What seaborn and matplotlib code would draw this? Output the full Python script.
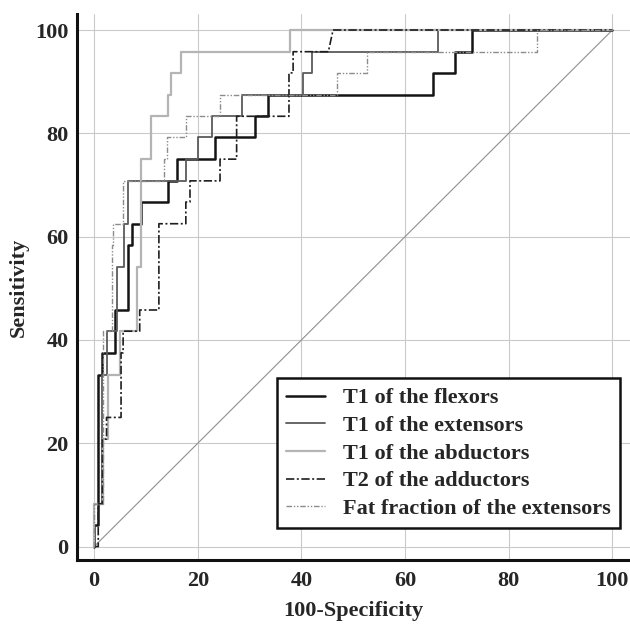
import matplotlib
matplotlib.use("Agg")
import matplotlib.pyplot as plt
import seaborn as sns
import pandas as pd

# ROC step curves, (100-specificity, sensitivity) vertices
flexors_fpr = [0, 0, 0.8, 0.8, 1.6, 1.6, 4.0, 4.0, 6.6, 6.6, 7.4, 7.4, 9.1, 9.1, 14.3, 14.3,
               15.9, 15.9, 23.3, 23.3, 31.0, 31.0, 33.6, 33.6, 65.4, 65.4, 69.6, 69.6, 73.0, 73.0, 100]
flexors_tpr = [0, 4.2, 4.2, 33.3, 33.3, 37.5, 37.5, 45.8, 45.8, 58.3, 58.3, 62.5, 62.5, 66.7, 66.7, 70.8,
               70.8, 75.0, 75.0, 79.2, 79.2, 83.3, 83.3, 87.5, 87.5, 91.7, 91.7, 95.8, 95.8, 100, 100]

extensors_fpr = [0, 0, 1.6, 1.6, 2.4, 2.4, 4.5, 4.5, 5.8, 5.8, 6.6, 6.6, 17.7, 17.7, 20.1, 20.1,
                 22.7, 22.7, 28.5, 28.5, 40.4, 40.4, 42.0, 42.0, 66.4, 66.4, 100]
extensors_tpr = [0, 8.3, 8.3, 33.3, 33.3, 41.7, 41.7, 54.2, 54.2, 62.5, 62.5, 70.8, 70.8, 75.0, 75.0, 79.2,
                 79.2, 83.3, 83.3, 87.5, 87.5, 91.7, 91.7, 95.8, 95.8, 100, 100]

abductors_fpr = [0, 0, 1.7, 1.7, 2.7, 2.7, 5.0, 5.0, 8.2, 8.2, 9.1, 9.1, 10.9, 10.9, 14.3, 14.3,
                 14.9, 14.9, 16.7, 16.7, 37.8, 37.8, 100]
abductors_tpr = [0, 8.3, 8.3, 20.8, 20.8, 33.3, 33.3, 41.7, 41.7, 54.2, 54.2, 75.0, 75.0, 83.3, 83.3, 87.5,
                 87.5, 91.7, 91.7, 95.8, 95.8, 100, 100]

adductors_fpr = [0, 0.8, 0.8, 1.6, 1.6, 2.4, 2.4, 5.2, 5.2, 5.6, 5.6, 8.8, 8.8, 12.5, 12.5, 17.7, 17.7,
                 18.5, 18.5, 24.3, 24.3, 27.5, 27.5, 37.6, 37.6, 38.4, 38.4, 45.2, 46.1, 100]
adductors_tpr = [0, 0, 8.3, 8.3, 20.8, 20.8, 25.0, 25.0, 37.5, 37.5, 41.7, 41.7, 45.8, 45.8, 62.5, 62.5, 66.7,
                 66.7, 70.8, 70.8, 75.0, 75.0, 83.3, 83.3, 91.7, 91.7, 95.8, 95.8, 100, 100]

fat_fpr = [0, 0, 1.7, 1.7, 3.4, 3.4, 3.7, 3.7, 5.6, 5.6, 13.5, 13.5, 14.1, 14.1, 17.7, 17.7,
           24.3, 24.3, 46.9, 46.9, 52.7, 52.7, 85.4, 85.4, 100]
fat_tpr = [0, 8.3, 8.3, 41.7, 41.7, 58.3, 58.3, 62.5, 62.5, 70.8, 70.8, 75.0, 75.0, 79.2, 79.2, 83.3,
           83.3, 87.5, 87.5, 91.7, 91.7, 95.8, 95.8, 100, 100]

diag = [0, 100]
ticks = [0, 20, 40, 60, 80, 100]
minor_ticks = [5, 10, 15, 25, 30, 35, 45, 50, 55, 65, 70, 75, 85, 90, 95]

curves = [
    ("T1 of the flexors", flexors_fpr, flexors_tpr, "#141414", 1.8, "-"),
    ("T1 of the extensors", extensors_fpr, extensors_tpr, "#5a5a5a", 1.3, "-"),
    ("T1 of the abductors", abductors_fpr, abductors_tpr, "#b4b4b4", 1.6, "-"),
    ("T2 of the adductors", adductors_fpr, adductors_tpr, "#1e1e1e", 1.2, (0, (5, 1.5, 1.2, 1.5))),
    ("Fat fraction of the extensors", fat_fpr, fat_tpr, "#8c8c8c", 1.0, (0, (4, 1.3, 1, 1.3, 1, 1.3))),
]

sns.set_style("white")
plt.rcParams['font.family'] = ['Liberation Serif', 'DejaVu Serif']
plt.rcParams['font.weight'] = 'bold'

fig = plt.figure(figsize=(6.3, 6.24), dpi=100)
ax = fig.add_axes([77 / 630, 64 / 624, 553 / 630, 546 / 624])

# grid and chance line
for t in ticks:
    ax.axvline(t, color="#cacaca", lw=0.8, zorder=0)
    ax.axhline(t, color="#cacaca", lw=0.8, zorder=0)
sns.lineplot(x=diag, y=diag, ax=ax, color="#8f8f8f", lw=0.8, zorder=1)

handles = []
for name, xs, ys, col, lw, ls in curves:
    df = pd.DataFrame({"fpr": xs, "tpr": ys})
    sns.lineplot(data=df, x="fpr", y="tpr", sort=False, estimator=None, ax=ax,
                 color=col, lw=lw, zorder=3)
    line = ax.lines[-1]
    line.set_linestyle(ls)
    line.set_label(name)
    handles.append(line)

ax.set_xlim(-3.3, 103.4)
ax.set_ylim(-2.6, 103.1)
ax.set_xticks(ticks)
ax.set_yticks(ticks)
ax.set_xticks(minor_ticks, minor=True)
ax.set_yticks(minor_ticks, minor=True)
ax.tick_params(which="major", direction="in", length=10, width=1.4, labelsize=16, pad=8)
ax.tick_params(which="minor", direction="in", length=5, width=1.2)
ax.tick_params(axis="y", pad=6)
for lab in ax.get_xticklabels() + ax.get_yticklabels():
    lab.set_fontweight("bold")

for side in ["top", "right"]:
    ax.spines[side].set_visible(False)
for side in ["left", "bottom"]:
    ax.spines[side].set_linewidth(2.2)
    ax.spines[side].set_color("#111111")

ax.set_xlabel("100-Specificity", fontsize=16, fontweight="bold", labelpad=7)
ax.set_ylabel("Sensitivity", fontsize=16, fontweight="bold", labelpad=5)

leg = ax.legend(handles=handles, loc="lower right", bbox_to_anchor=(0.982, 0.058),
                borderaxespad=0, fancybox=False, framealpha=1, edgecolor="#111111",
                prop={"family": "Liberation Serif", "weight": "bold", "size": 16},
                handlelength=1.75, handletextpad=0.8, borderpad=0.42, labelspacing=0.32)
leg.get_frame().set_linewidth(1.8)

fig.savefig("out.png", dpi=100)
